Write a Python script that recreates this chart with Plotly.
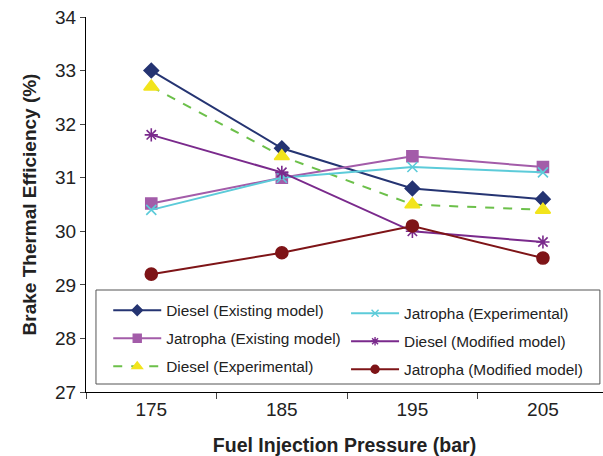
import plotly.graph_objects as go

pressure = ["175", "185", "195", "205"]
diesel_existing = [33.0, 31.55, 30.8, 30.6]
jatropha_existing = [30.52, 31.0, 31.4, 31.2]
diesel_experimental = [32.7, 31.4, 30.5, 30.4]
jatropha_experimental = [30.4, 31.0, 31.2, 31.1]
diesel_modified = [31.8, 31.1, 30.0, 29.8]
jatropha_modified = [29.2, 29.6, 30.1, 29.5]

series = [
    ("Diesel (Existing model)", diesel_existing, "#253472", "#253472", "solid", "diamond", 11, 8, "legend"),
    ("Jatropha (Existing model)", jatropha_existing, "#a35ca9", "#a35ca9", "solid", "square", 11, 8, "legend"),
    ("Diesel (Experimental)", diesel_experimental, "#6cc04a", "#f2e41c", "dash", "triangle-up", 13, 9, "legend"),
    ("Jatropha (Experimental)", jatropha_experimental, "#5ccbd9", "#5ccbd9", "solid", "x-thin-open", 10, 7, "legend2"),
    ("Diesel (Modified model)", diesel_modified, "#7a2a8c", "#7a2a8c", "solid", "asterisk-open", 11, 7, "legend2"),
    ("Jatropha (Modified model)", jatropha_modified, "#7e1417", "#7e1417", "solid", "circle", 12, 8, "legend2"),
]

fig = go.Figure()
for i, (name, vals, lc, mc, dash, sym, size, lsize, lg) in enumerate(series):
    fig.add_trace(go.Scatter(
        x=pressure, y=vals, name=name, mode="lines+markers",
        line=dict(color=lc, width=2, dash=dash),
        marker=dict(symbol=sym, size=size, color=mc, line=dict(color=mc, width=1.6)),
        showlegend=False,
    ))
for i, (name, vals, lc, mc, dash, sym, size, lsize, lg) in enumerate(series):
    fig.add_trace(go.Scatter(
        x=[None], y=[None], name=name, mode="lines+markers",
        line=dict(color=lc, width=2, dash=dash),
        marker=dict(symbol=sym, size=lsize, color=mc, line=dict(color=mc, width=1.4)),
        legend=lg, legendgroup=str(i), showlegend=True,
    ))

fig.add_shape(type="rect", xref="paper", yref="paper",
              x0=0.0193, x1=0.994, y0=0.0213, y1=0.272,
              line=dict(color="#555555", width=1), fillcolor="white", layer="below")

legend_common = dict(
    bgcolor="rgba(0,0,0,0)", borderwidth=0, yanchor="top", xanchor="left",
    font=dict(family="Liberation Sans, Arial", size=15.4, color="#222222"),
    tracegroupgap=5, itemwidth=48,
)
fig.update_layout(
    width=603, height=456,
    margin=dict(l=86, r=0, t=17, b=64),
    paper_bgcolor="white", plot_bgcolor="white",
    font=dict(family="Liberation Sans, Arial", color="#222222"),
    legend=dict(x=0.043, y=0.262, **legend_common),
    legend2=dict(x=0.503, y=0.254, **legend_common),
    xaxis=dict(
        type="category", range=[-0.5, 3.46], tickson="boundaries",
        ticks="outside", ticklen=6, tickcolor="#444444",
        showline=True, linecolor="black", linewidth=1, showgrid=False,
        tickfont=dict(size=19, color="#222222"),
        title=dict(text="<b>Fuel Injection Pressure (bar)</b>",
                   font=dict(size=19.5, color="#222222"), standoff=23),
    ),
    yaxis=dict(
        range=[27, 34], dtick=1, ticks="outside", ticklen=5, tickcolor="#444444",
        showline=True, linecolor="black", linewidth=1, showgrid=False, zeroline=False,
        tickfont=dict(size=19, color="#222222"),
        title=dict(text="<b>Brake Thermal Efficiency (%)</b>",
                   font=dict(size=19, color="#222222"), standoff=13),
    ),
)

fig.write_html("out.html")
